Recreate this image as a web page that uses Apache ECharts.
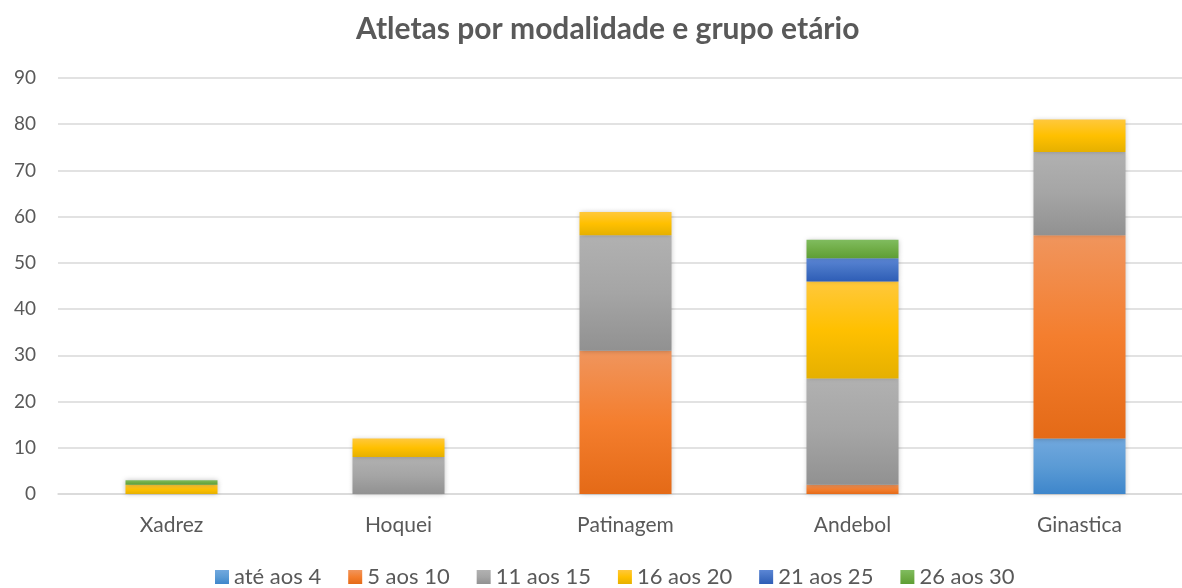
<!DOCTYPE html>
<html>
<head>
<meta charset="utf-8">
<script src="https://cdn.jsdelivr.net/npm/echarts@6/dist/echarts.min.js"></script>
<style>html,body{margin:0;padding:0;background:#fff;}#c{width:1182px;height:588px;}</style>
</head>
<body>
<div id="c"></div>
<script>
const categories = ['Xadrez', 'Hoquei', 'Patinagem', 'Andebol', 'Ginastica'];
const seriesNames = ['até aos 4', '5 aos 10', '11 aos 15', '16 aos 20', '21 aos 25', '26 aos 30'];
const ateAos4 = [0, 0, 0, 0, 12];
const aos5a10 = [0, 0, 31, 2, 44];
const aos11a15 = [0, 8, 25, 23, 18];
const aos16a20 = [2, 4, 5, 21, 7];
const aos21a25 = [0, 0, 0, 5, 0];
const aos26a30 = [1, 0, 0, 4, 0];
const yTicks = { min: 0, max: 90, interval: 10 };

const values = [ateAos4, aos5a10, aos11a15, aos16a20, aos21a25, aos26a30];
const gradients = [
  ['#71A8DE', '#5B9BD5', '#3E86CB'],
  ['#F0955D', '#F47E2E', '#E46A17'],
  ['#B1B1B1', '#A5A5A5', '#919191'],
  ['#FFC83C', '#FFC000', '#E5B000'],
  ['#5B86D5', '#4472C4', '#2E5DB6'],
  ['#80BC5F', '#70AD47', '#5E9E35']
];
function grad(c) {
  return new echarts.graphic.LinearGradient(0, 0, 0, 1, [
    { offset: 0, color: c[0] }, { offset: 0.5, color: c[1] }, { offset: 1, color: c[2] }
  ]);
}
const series = values.map((arr, i) => ({
  name: seriesNames[i],
  type: 'bar',
  stack: 'total',
  barWidth: 92,
  data: arr.map(v => v === 0 ? '-' : v),
  itemStyle: {
    color: grad(gradients[i]),
    shadowBlur: 5,
    shadowColor: 'rgba(0,0,0,0.25)'
  },
  emphasis: { disabled: true }
}));

const chart = echarts.init(document.getElementById('c'), null, { renderer: 'canvas' });
chart.setOption({
  animation: false,
  backgroundColor: '#ffffff',
  textStyle: { fontFamily: 'Lato, "Open Sans", sans-serif' },
  title: {
    text: 'Atletas por modalidade e grupo etário',
    left: 356,
    top: 14,
    padding: 0,
    textStyle: { fontFamily: 'Lato', fontWeight: 'bold', fontSize: 30, color: '#595959' }
  },
  legend: {
    top: 566,
    left: 215,
    padding: 0,
    itemWidth: 14,
    itemHeight: 14,
    itemGap: 27,
    icon: 'rect',
    textStyle: { fontSize: 22, color: '#595959', fontFamily: 'Lato' },
    data: seriesNames
  },
  grid: { left: 58, top: 78, width: 1135, bottom: 94, outerBoundsMode: 'none' },
  xAxis: {
    type: 'category',
    data: categories,
    axisLine: { lineStyle: { color: '#D9D9D9', width: 1.5 } },
    axisTick: { show: false },
    axisLabel: { fontSize: 21, color: '#595959', margin: 21 }
  },
  yAxis: {
    type: 'value',
    min: yTicks.min,
    max: yTicks.max,
    interval: yTicks.interval,
    axisLine: { show: false },
    axisTick: { show: false },
    splitLine: { lineStyle: { color: '#D9D9D9', width: 1.5 } },
    axisLabel: { fontSize: 19, color: '#595959', margin: 22 }
  },
  series: series
});
</script>
</body>
</html>
